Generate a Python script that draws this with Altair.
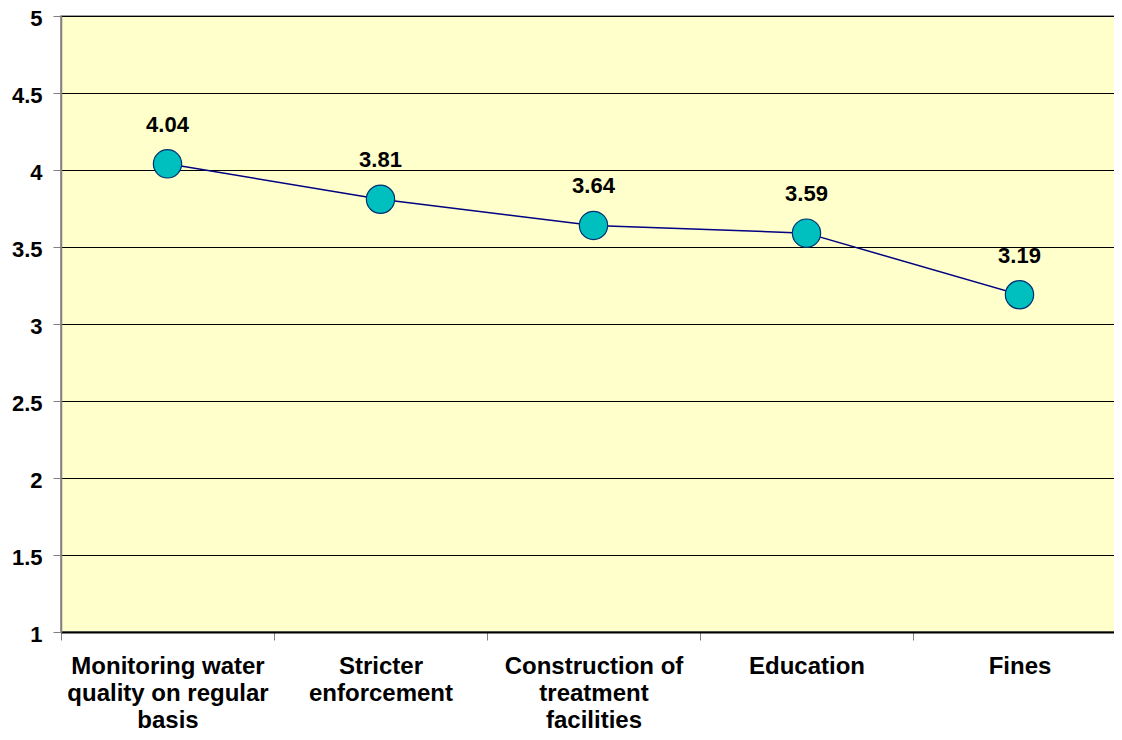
import altair as alt
import pandas as pd

categories = [
    "Monitoring water|quality on regular|basis",
    "Stricter|enforcement",
    "Construction of|treatment|facilities",
    "Education",
    "Fines",
]
scores = [4.04, 3.81, 3.64, 3.59, 3.19]

df = pd.DataFrame({"cat": categories, "score": scores})

FONT = "Liberation Sans"

x = alt.X(
    "cat:N",
    sort=categories,
    title=None,
    scale=alt.Scale(paddingInner=0, paddingOuter=0),
    axis=alt.Axis(
        labelExpr="split(datum.label, '|')",
        labelAngle=0,
        labelLimit=0,
        labelFont=FONT,
        labelFontSize=24,
        labelFontWeight="bold",
        labelColor="black",
        labelLineHeight=27,
        labelPadding=14,
        labelBaseline="top",
        tickBand="extent",
        tickSize=8,
        tickColor="#808080",
        domainColor="black",
        domainWidth=2,
        grid=False,
    ),
)
y = alt.Y(
    "score:Q",
    title=None,
    scale=alt.Scale(domain=[1, 5], nice=False, zero=False),
    axis=alt.Axis(
        values=[1, 1.5, 2, 2.5, 3, 3.5, 4, 4.5, 5],
        format=".1~f",
        labelFont=FONT,
        labelFontSize=22,
        labelFontWeight="bold",
        labelColor="black",
        labelPadding=11,
        labelOffset=2,
        tickSize=8,
        tickColor="#808080",
        domainColor="#808080",
        domainWidth=1.5,
        grid=True,
        gridColor="black",
        gridWidth=1,
    ),
)

base = alt.Chart(df)

line = base.mark_line(color="#000080", strokeWidth=1.5).encode(x=x, y=y)
points = base.mark_point(
    filled=True, shape="circle", size=800, fill="#00BFBF",
    stroke="#003070", strokeWidth=1.2, opacity=1,
).encode(x=x, y=y)
labels = base.mark_text(
    dy=-39, font=FONT, fontSize=22, fontWeight="bold", color="black",
).encode(x=x, y=y, text=alt.Text("score:Q", format=".2f"))

chart = (
    alt.layer(line, points, labels)
    .properties(
        width=1065,
        height=616,
        background="white",
        autosize=alt.AutoSizeParams(type="none"),
        padding={"left": 53, "top": 8, "right": -12, "bottom": 100},
    )
    .configure_view(fill="#FFFFCC", stroke="#808080", strokeWidth=1.5)
)

chart.save("out.html", embed_options={"renderer": "svg", "actions": False})
